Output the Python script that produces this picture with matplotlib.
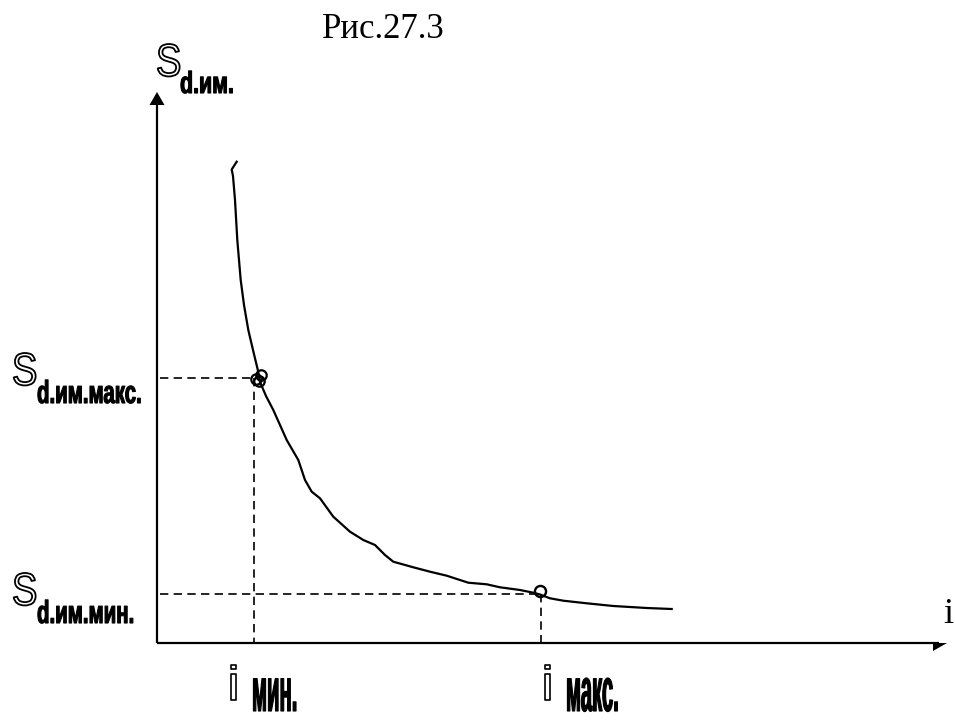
import matplotlib
matplotlib.use("Agg")
import matplotlib.pyplot as plt
import matplotlib.colors as mcolors
from matplotlib.patheffects import AbstractPathEffect
from matplotlib.transforms import Affine2D

# ---- curve S_d.им.(i) ----
i_curve = [79.7, 74.7, 76, 78, 80.3, 83.7, 87, 91.3, 96, 101.3, 103, 109, 116.3,
           129.7, 141.3, 148, 154.7, 163, 176.3, 193, 206.3, 218, 228, 236.3,
           256.3, 273, 289.7, 311.3, 329.7, 343, 363, 376.3, 383, 393, 406.3,
           429.7, 456.3, 489.7, 514.7]
s_curve = [481.3, 473.5, 467, 443, 403, 363, 338, 313, 293, 271, 261, 247, 233,
           203, 183, 163, 151.3, 144.7, 126.3, 111.3, 103, 98, 88, 81.3,
           75.7, 71.3, 67.3, 60.3, 58.7, 55.7, 53, 50.3, 48.5, 44.7, 42.3,
           39.7, 37, 35, 34]

# ---- characteristic points ----
i_min, i_max = 96.5, 384
s_max, s_min = 265, 48.7

# ---- axis extents ----
x_end, y_end = 790, 551


class Condensed(AbstractPathEffect):
    """Draws text glyphs scaled about the text origin (condensed/tall type)."""

    def __init__(self, sx=1.0, sy=1.0, face=None, edge="black", lw=0.0):
        super().__init__()
        self.sx, self.sy = sx, sy
        self.face = None if face is None else mcolors.to_rgba(face)
        self.edge = edge
        self.lw = lw

    def draw_path(self, renderer, gc, tpath, affine, rgbFace=None):
        m = affine.get_matrix()
        x0, y0 = m[0, 2], m[1, 2]
        squeeze = (Affine2D().translate(-x0, -y0)
                   .scale(self.sx, self.sy).translate(x0, y0))
        gc0 = renderer.new_gc()
        gc0.copy_properties(gc)
        gc0.set_linewidth(self.lw)
        gc0.set_foreground(self.edge)
        face = self.face if self.face is not None else rgbFace
        renderer.draw_path(gc0, tpath, affine + squeeze, face)
        gc0.restore()


fig = plt.figure(figsize=(9.55, 7.22), dpi=100)
ax = fig.add_axes([0, 0, 1, 1])
ax.set_xlim(-157, 798)
ax.set_ylim(-79, 643)
ax.axis("off")

# axes with arrows
ax.plot([0, 0], [0, y_end - 10], color="black", lw=1.6, solid_capstyle="butt")
ax.fill([-7.5, 0, 7.5], [y_end - 13, y_end, y_end - 13], color="black", lw=0)
ax.plot([0, x_end - 8], [0, 0], color="black", lw=1.6, solid_capstyle="butt")
ax.fill([x_end - 14, x_end, x_end - 14], [0, 0, -8], color="black", lw=0)

# projection lines
dash = dict(color="black", lw=1.2, dashes=(5.0, 3.2))
ax.plot([3, i_min], [s_max, s_max], **dash)
ax.plot([i_min, i_min], [s_max, 0], **dash)
ax.plot([3, i_max], [s_min, s_min], **dash)
ax.plot([i_max, i_max], [s_min, 0], **dash)

# curve
ax.plot(i_curve, s_curve, color="black", lw=1.6, solid_joinstyle="round")

# points on the curve
ax.plot([i_min + 2.5, i_min + 7.5, i_min + 5], [s_max - 1, s_max + 3, s_max - 3],
        ls="none", marker="o", ms=7.5, mfc="none", mec="black", mew=1.6)
ax.plot([i_max - 1.5], [s_min + 3], ls="none", marker="o", ms=8,
        mfc="none", mec="black", mew=1.7)

# ---- text ----
sans = ["Liberation Sans", "DejaVu Sans"]
serif = ["Liberation Serif", "DejaVu Serif"]
hollow = Condensed(sx=0.83, face="white", edge="black", lw=1.3)


def s_label(x, y, sub, sub_dx, sub_dy, sub_size, sub_sx):
    ax.text(x, y, "S", family=sans, fontsize=33, ha="left", va="baseline",
            path_effects=[hollow])
    ax.text(x + sub_dx, y + sub_dy, sub, family=sans, fontsize=sub_size,
            weight="bold", ha="left", va="baseline",
            path_effects=[Condensed(sx=sub_sx, edge="black", lw=0.8)])


ax.text(226, 605, "Рис.27.3", family=serif, fontsize=25, ha="center",
        va="baseline")

s_label(-1, 567, "d.им.", 24, -17, 22, 0.70)
s_label(-145, 258, "d.им.макс.", 25, -18, 23, 0.64)
s_label(-145, 38, "d.им.мин.", 25, -18, 23, 0.64)

for x0, sub in [(71, "мин."), (385, "макс.")]:
    ax.text(x0, -57, "i", family=sans, fontsize=35, ha="left", va="baseline",
            path_effects=[Condensed(sx=1.0, face="white", edge="black", lw=1.2)])
    ax.text(x0 + 24, -68, sub, family=sans, fontsize=34, weight="bold",
            ha="left", va="baseline",
            path_effects=[Condensed(sx=0.43, sy=1.3, edge="black", lw=0.8)])

ax.text(786, 20, "i", family=serif, fontsize=26, ha="left", va="baseline")

fig.savefig("out.png", dpi=100)
